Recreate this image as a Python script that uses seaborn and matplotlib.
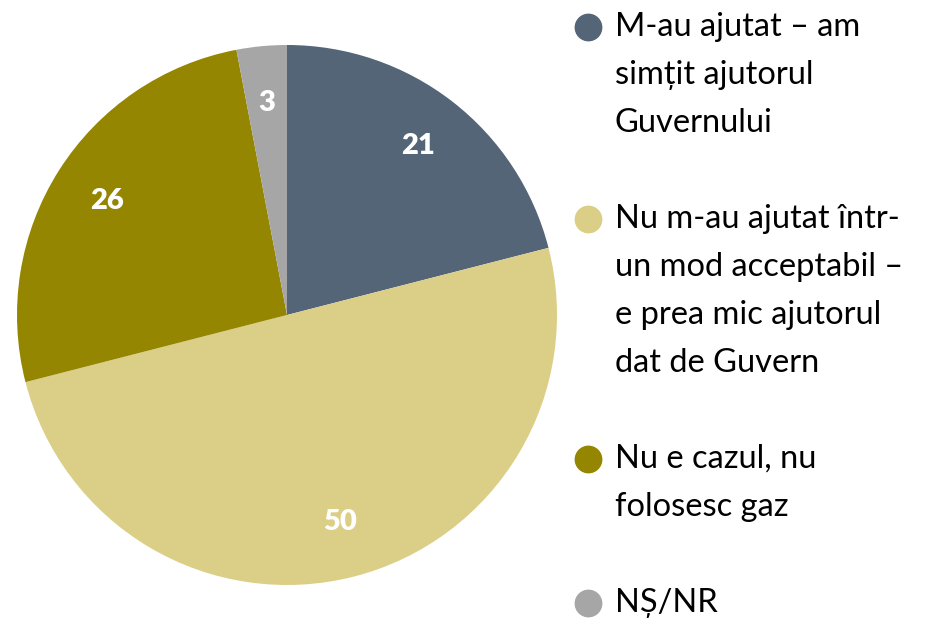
import matplotlib
matplotlib.use("Agg")
import matplotlib.pyplot as plt
import seaborn as sns
import numpy as np
from matplotlib.lines import Line2D

sns.set_theme(style="white")
plt.rcParams['font.family'] = ['Lato', 'DejaVu Sans']

categories = [
    "M-au ajutat – am\nsimțit ajutorul\nGuvernului",
    "Nu m-au ajutat într-\nun mod acceptabil –\ne prea mic ajutorul\ndat de Guvern",
    "Nu e cazul, nu\nfolosesc gaz",
    "NȘ/NR",
]
values = [21, 50, 26, 3]
colors = sns.color_palette(["#546578", "#DBCF87", "#948600", "#A6A6A6"])

fig = plt.figure(figsize=(9.25, 6.19), dpi=100)
W, H = 925, 619
ax = fig.add_axes([17 / W, (H - 585) / H, 540 / W, 540 / H])

wedges, texts = ax.pie(values, colors=colors, startangle=90, counterclock=False,
                       wedgeprops=dict(linewidth=0))
for w, v in zip(wedges, values):
    ang = np.deg2rad((w.theta1 + w.theta2) / 2)
    r = 0.79
    ax.text(r * np.cos(ang), r * np.sin(ang), str(v), ha='center', va='center',
            color='white', fontsize=21, fontweight='heavy')
ax.set_xlim(-1, 1)
ax.set_ylim(-1, 1)
ax.set_aspect('equal')
ax.axis('off')

# legend
line_h = 48
y = 27
for lab, c in zip(categories, colors):
    lines = lab.split("\n")
    fig.add_artist(Line2D([588 / W], [(H - y) / H], marker='o', markersize=19,
                          color=c, linestyle='none', transform=fig.transFigure))
    for i, ln in enumerate(lines):
        fig.text(615 / W, (H - (y + i * line_h)) / H, ln, ha='left', va='center',
                 fontsize=23.5, color='black')
    y += (len(lines) + 1) * line_h

fig.savefig("out.png", dpi=100)
